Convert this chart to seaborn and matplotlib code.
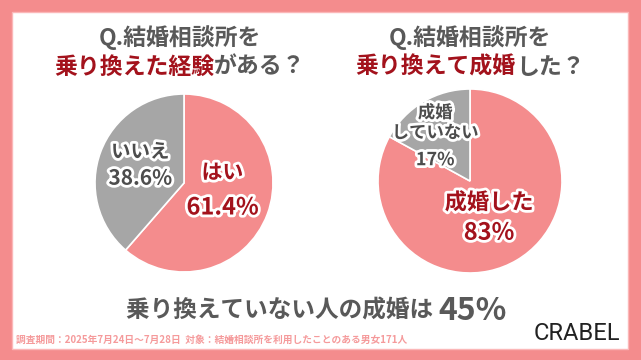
import matplotlib
matplotlib.use("Agg")
import matplotlib.pyplot as plt
import matplotlib.patheffects as pe
from matplotlib.patches import Rectangle
import numpy as np
import seaborn as sns

sns.set_theme(style="white")
plt.rcParams['font.family'] = ['Noto Sans CJK JP', 'DejaVu Sans']

# Data
q1_labels = ["はい", "いいえ"]
q1_values = [61.4, 38.6]
q1_pct = ["61.4%", "38.6%"]
q2_labels = ["成婚した", "成婚\nしていない"]
q2_values = [83, 17]
q2_pct = ["83%", "17%"]

PINK = "#F48C8D"
GRAY = "#A6A6A6"
DARKRED = "#A3121C"
DARKGRAY = "#4D4D4D"
TXTGRAY = "#595959"

W, H = 641, 360
fig = plt.figure(figsize=(W / 100, H / 100), dpi=100)
fig.patch.set_facecolor(PINK)
fig.patches.append(Rectangle((12 / W, 1 - 349 / H), 616 / W, 337 / H,
                             transform=fig.transFigure, facecolor="white",
                             edgecolor="#FBB7B8", linewidth=1, zorder=-5))


def px_axes(cx, cy, r):
    return fig.add_axes([(cx - r) / W, 1 - (cy + r) / H, 2 * r / W, 2 * r / H])


stroke = [pe.withStroke(linewidth=4, foreground="white")]


def draw_pie(ax, values, labels, pcts, tcolors, place, fs_lab, fs_pct, offs):
    wedges, _ = ax.pie(values, colors=[PINK, GRAY], startangle=90, counterclock=False,
                       wedgeprops=dict(edgecolor="white", linewidth=1.2))
    ax.set_xlim(-1, 1)
    ax.set_ylim(-1, 1)
    ax.axis("off")
    for w, lab, pct, tc, (rr, da), fl, fp, (o1, o2) in zip(
            wedges, labels, pcts, tcolors, place, fs_lab, fs_pct, offs):
        ang = np.deg2rad((w.theta1 + w.theta2) / 2 + da)
        x, y = rr * np.cos(ang), rr * np.sin(ang)
        ax.text(x, y + o1, lab, ha="center", va="center", fontsize=fl, fontweight="bold",
                color=tc, path_effects=stroke, linespacing=1.15)
        ax.text(x, y + o2, pct, ha="center", va="center", fontsize=fp, fontweight="bold",
                color=tc, path_effects=stroke)


ax1 = px_axes(184, 183, 89)
draw_pie(ax1, q1_values, q1_labels, q1_pct, [DARKRED, DARKGRAY],
         [(0.44, 10), (0.53, -1.7)], [15, 14], [17, 15],
         [(0.2, -0.195), (0.146, -0.146)])

ax2 = px_axes(470, 181, 92)
draw_pie(ax2, q2_values, q2_labels, q2_pct, [DARKRED, DARKGRAY],
         [(0.45, -3), (0.62, 7)], [16, 12.5], [17, 13],
         [(0.163, -0.163), (0.14, -0.26)])


def measure(s, fs):
    r = fig.canvas.get_renderer()
    t = fig.text(0, 0, s, fontsize=fs, fontweight="bold")
    w = t.get_window_extent(r).width
    t.remove()
    return w


fig.canvas.draw()
TFS = 16.5


def title(cx, red, gray):
    fig.text(cx / W, 1 - 38 / H, "Q.結婚相談所を", ha="center", va="center",
             fontsize=TFS, fontweight="bold", color=TXTGRAY)
    wr = measure(red, TFS)
    wg = measure(gray, TFS)
    x0 = cx - (wr + wg) / 2
    fig.text(x0 / W, 1 - 67 / H, red, ha="left", va="center", fontsize=TFS,
             fontweight="bold", color=DARKRED)
    fig.text((x0 + wr) / W, 1 - 67 / H, gray, ha="left", va="center", fontsize=TFS,
             fontweight="bold", color=TXTGRAY)


title(180, "乗り換えた経験", "がある？")
title(470, "乗り換えて成婚", "した？")

# Bottom summary
s1 = "乗り換えていない人の成婚は "
s2 = "45%"
wa = measure(s1, 17)
wb = measure(s2, 23)
x0 = 316 - (wa + wb) / 2
fig.text(x0 / W, 1 - 318 / H, s1, ha="left", va="baseline", fontsize=17,
         fontweight="bold", color=TXTGRAY)
fig.text((x0 + wa) / W, 1 - 320 / H, s2, ha="left", va="baseline", fontsize=23,
         fontweight="bold", color=TXTGRAY)

fig.text(16 / W, 1 - 340 / H, "調査期間：2025年7月24日～7月28日  対象：結婚相談所を利用したことのある男女171人",
         ha="left", va="center", fontsize=7.0, fontweight="bold", color="#F59A9B")
fig.text(577 / W, 1 - 333 / H, "CRABEL", ha="center", va="center", fontsize=17,
         color="#222222", family=["Roboto", "DejaVu Sans"])

fig.savefig("out.png", dpi=100, facecolor=fig.get_facecolor())
